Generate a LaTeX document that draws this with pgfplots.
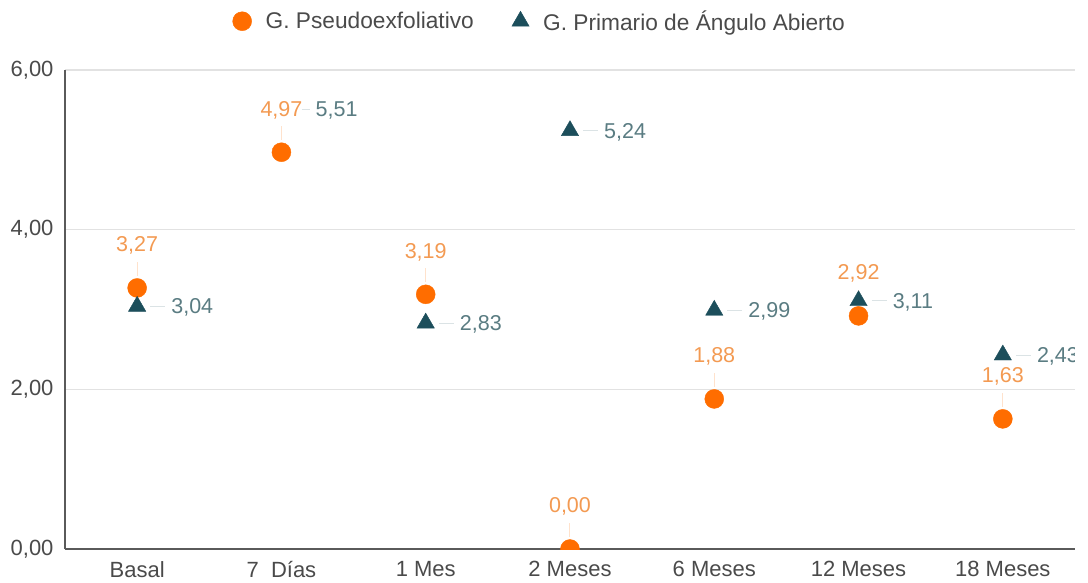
\documentclass[border=0pt]{standalone}
\usepackage{fontspec}
\setmainfont{Liberation Sans}
\usepackage{pgfplots}
\pgfplotsset{compat=1.18}
\definecolor{pseudo}{HTML}{FF6D00}
\definecolor{pseudolab}{HTML}{F39A52}
\definecolor{prim}{HTML}{1C4E5B}
\definecolor{primlab}{HTML}{5A7C82}
\definecolor{axisgray}{HTML}{5A5A5A}
\definecolor{gridgray}{HTML}{E2E2E2}
\definecolor{txtgray}{HTML}{4A4A4A}

\pgfplotstableread{
x y lab
0 3.27 3,27
1 4.97 4,97
2 3.19 3,19
3 0.00 0,00
4 1.88 1,88
5 2.92 2,92
6 1.63 1,63
}\pseudo
\pgfplotstableread{
x y lab
0 3.04 3,04
2 2.83 2,83
3 5.24 5,24
4 2.99 2,99
5 3.11 3,11
6 2.43 2,43
}\prim

% label styles: orange above with a short vertical leader, teal to the right with a short horizontal one
\pgfplotsset{
  upper labels/.style={
    point meta=explicit symbolic,
    nodes near coords={\pgfplotspointmeta\\{\color{pseudo!20}\rule{1bp}{14bp}}},
    every node near coord/.append style={anchor=south, yshift=12bp, inner sep=0pt,
      align=center, text=pseudolab, font=\fontsize{21.5bp}{24bp}\selectfont}},
  right labels/.style={
    point meta=explicit symbolic,
    nodes near coords={{\color{prim!16}\rule[7bp]{#1}{1bp}}\hspace{6bp}\pgfplotspointmeta},
    every node near coord/.append style={anchor=base west, xshift=28bp-#1, yshift=-7.5bp,
      inner sep=0pt, text=primlab, font=\fontsize{21.5bp}{24bp}\selectfont}},
  right labels/.default=15bp,
}

\begin{document}
\begin{tikzpicture}
\begin{axis}[
  scale only axis, width=1010bp, height=479bp,
  xmin=-0.5, xmax=6.5, ymin=0, ymax=6,
  axis x line*=bottom, axis y line*=left,
  axis line style={draw=axisgray, line width=1.5bp, -},
  ytick={0,2,4,6}, yticklabels={{0,00},{2,00},{4,00},{6,00}},
  ymajorgrids, grid style={draw=gridgray, line width=1.5bp},
  xtick={0,...,6},
  xticklabels={Basal, 7\ \ Días, 1 Mes, 2 Meses, 6 Meses, 12 Meses, 18 Meses},
  major tick length=0pt,
  tick label style={font=\fontsize{22bp}{26bp}\selectfont, text=txtgray},
  yticklabel style={xshift=-8bp},
  xticklabel style={yshift=-9bp},
  clip marker paths=true,
  legend columns=2,
  legend style={at={(0.47,1)}, anchor=south, yshift=34bp, draw=none, fill=none,
    font=\fontsize{22.7bp}{26bp}\selectfont, text=txtgray,
    /tikz/every odd column/.append style={column sep=12bp},
    /tikz/every even column/.append style={column sep=36bp}},
  legend cell align=left,
]
\addplot[only marks, mark=*, mark size=9.5bp, color=pseudo, upper labels]
  table[x=x, y=y, meta=lab] {\pseudo};
\addlegendentry{G. Pseudoexfoliativo}
\addplot[only marks, mark=triangle*, mark size=10bp, color=prim, right labels]
  table[x=x, y=y, meta=lab] {\prim};
\addlegendentry{G. Primario de Ángulo Abierto}
% 7 Dias: value 5,51 has a label but no marker in the original
\addplot[draw=none, mark=none, forget plot, right labels=8bp]
  table[x=x, y=y, meta=lab] {
x y lab
1 5.51 5,51
};
\end{axis}
\path (current axis.south west) ++(-65bp,-34bp) rectangle ++(1088bp,583bp);
\end{tikzpicture}
\end{document}
